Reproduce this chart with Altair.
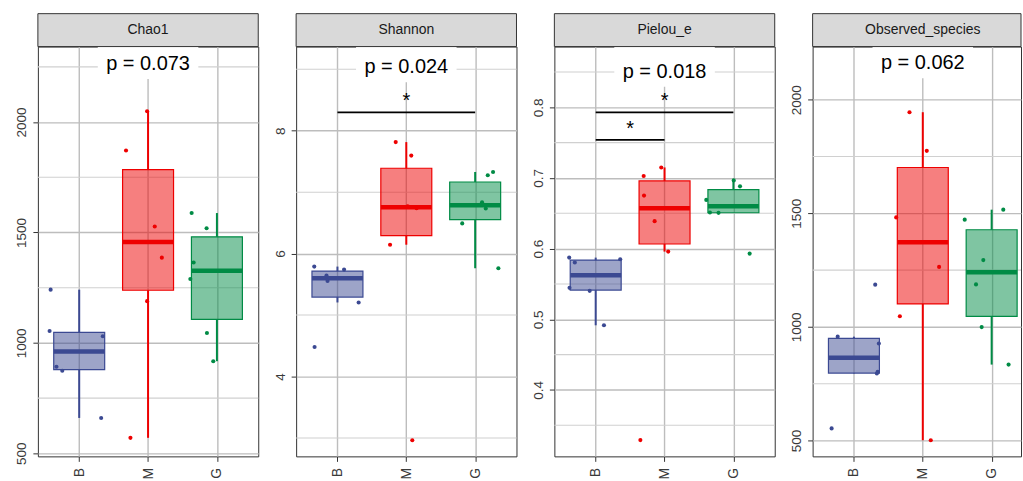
import altair as alt
import numpy as np
import pandas as pd

# Groups and their colours
groups = ["B", "M", "G"]
group_pos = [1, 2, 3]
colors = ["#3B4992", "#EE0000", "#008B45"]

# Alpha-diversity indices shown as panels
metrics = ["Chao1", "Shannon", "Pielou_e", "Observed_species"]
p_labels = ["p = 0.073", "p = 0.024", "p = 0.018", "p = 0.062"]
p_label_y = [2258, 9.015, 0.849, 2156]
y_domains = [[486, 2342], [2.70, 9.37], [0.306, 0.886], [430, 2234]]
major_ticks = [[500, 1000, 1500, 2000], [4, 6, 8], [0.4, 0.5, 0.6, 0.7, 0.8], [500, 1000, 1500, 2000]]
minor_ticks = [[750, 1250, 1750, 2250], [3, 5, 7, 9],
               [0.35, 0.45, 0.55, 0.65, 0.75, 0.85], [750, 1250, 1750]]
label_formats = ["d", "d", ".1f", "d"]

# Per-sample index values, by group (B, M, G)
chao1_B = [1241, 1054, 1030, 892, 874, 660]
chao1_M = [2049, 1871, 1527, 1386, 1189, 570]
chao1_G = [1588, 1519, 1364, 1289, 1045, 917]

shannon_B = [5.789, 5.740, 5.642, 5.556, 5.205, 4.481]
shannon_M = [7.815, 7.595, 6.740, 6.772, 6.145, 2.962]
shannon_G = [7.329, 7.275, 6.837, 6.735, 6.492, 5.762]

pielou_B = [0.5873, 0.5803, 0.5849, 0.5445, 0.5403, 0.4915]
pielou_M = [0.7149, 0.7028, 0.6751, 0.6389, 0.5958, 0.329]
pielou_G = [0.6966, 0.6882, 0.669, 0.6511, 0.6507, 0.593]

observed_B = [957, 927, 802, 795, 553, 1186]
observed_M = [1945, 1775, 1482, 1264, 1047, 501]
observed_G = [1516, 1472, 1294, 1187, 999, 834]

# Horizontal jitter of each sample, in category units
chao1_jit = [[-0.415, -0.43, 0.343, -0.33, -0.246, 0.319],
             [-0.014, -0.32, 0.097, 0.2, -0.014, -0.256],
             [-0.367, -0.15, -0.338, -0.386, -0.145, -0.053]]
shannon_jit = [[-0.337, 0.096, -0.159, -0.144, 0.308, -0.332],
               [-0.154, 0.072, 0.149, 0.02, -0.236, 0.087],
               [0.26, 0.183, 0.1, 0.154, -0.188, 0.337]]
pielou_jit = [[-0.385, -0.303, 0.356, -0.38, -0.087, 0.12],
              [-0.048, -0.303, -0.298, -0.144, 0.053, -0.351],
              [0.005, 0.096, -0.394, -0.341, -0.216, 0.236]]
observed_jit = [[-0.236, 0.362, 0.345, 0.333, -0.324, 0.309],
                [-0.193, 0.058, -0.386, 0.237, -0.333, 0.116],
                [0.169, -0.391, -0.121, -0.227, -0.145, 0.246]]

values = [
    [chao1_B, chao1_M, chao1_G],
    [shannon_B, shannon_M, shannon_G],
    [pielou_B, pielou_M, pielou_G],
    [observed_B, observed_M, observed_G],
]
jitters = [chao1_jit, shannon_jit, pielou_jit, observed_jit]

# Pairwise significance brackets: (panel, from group, to group, height, label)
brackets = [
    ("Shannon", 1, 3, 8.30, "*"),
    ("Pielou_e", 1, 3, 0.793, "*"),
    ("Pielou_e", 1, 2, 0.754, "*"),
]

UNIT_PX = 69.06          # pixels per category step
PANEL_WIDTHS = [221, 221, 221, 209]   # last panel runs to the page edge
PANEL_H = 411
STRIP_H = 33
BOX_HALF = 0.37
FONT = "Liberation Sans"
MAJOR_GRID = "#BDBDBD"
MINOR_GRID = "#D0D0D0"
DARK = "#333333"

color_scale = alt.Scale(domain=groups, range=colors)


def box_stats(v):
    v = np.asarray(v, dtype=float)
    q1, med, q3 = np.percentile(v, [25, 50, 75])
    iqr = q3 - q1
    inside = v[(v >= q1 - 1.5 * iqr) & (v <= q3 + 1.5 * iqr)]
    return q1, med, q3, inside.min(), inside.max()


def panel(i):
    name = metrics[i]
    width = PANEL_WIDTHS[i]
    dom = y_domains[i]
    units_per_px = (dom[1] - dom[0]) / PANEL_H

    x_scale = alt.Scale(domain=[0.4, 0.4 + width / UNIT_PX], nice=False, zero=False)
    x_axis = alt.Axis(values=group_pos, labelExpr="['B','M','G'][datum.value - 1]",
                      labelAngle=270, grid=True, title=None)
    y_scale = alt.Scale(domain=dom, nice=False, zero=False)
    y_axis = alt.Axis(values=major_ticks[i], format=label_formats[i], title=None, grid=True)

    def X(f):
        return alt.X(f, type="quantitative", scale=x_scale, axis=x_axis)

    def Y(f):
        return alt.Y(f, type="quantitative", scale=y_scale, axis=y_axis)

    col = alt.Color("group:N", scale=color_scale, legend=None)

    pts, boxes = [], []
    for g, pos, vals, jit in zip(groups, group_pos, values[i], jitters[i]):
        for v, j in zip(vals, jit):
            pts.append({"group": g, "x": pos + j, "value": v})
        q1, med, q3, lo, hi = box_stats(vals)
        boxes.append({"group": g, "pos": pos, "x0": pos - BOX_HALF, "x1": pos + BOX_HALF,
                      "q1": q1, "med": med, "q3": q3, "lo": lo, "hi": hi})
    pts = pd.DataFrame(pts)
    boxes = pd.DataFrame(boxes)

    minor = alt.Chart(pd.DataFrame({"v": minor_ticks[i]})).mark_rule(
        color=MINOR_GRID, strokeWidth=1.1).encode(y=Y("v"))

    label_df = pd.DataFrame({"x": [2.0], "x0": [2 - 0.73], "x1": [2 + 0.73],
                             "y": [p_label_y[i]],
                             "lo": [p_label_y[i] - 14 * units_per_px],
                             "label": [p_labels[i]]})
    label_bg = alt.Chart(label_df).mark_rect(fill="white").encode(
        x=X("x0"), x2="x1", y=Y("lo"), y2=alt.value(0))

    box = alt.Chart(boxes).mark_rect(fillOpacity=0.5, strokeWidth=1.2).encode(
        x=X("x0"), x2="x1", y=Y("q1"), y2="q3", fill=col, stroke=col)
    w_low = alt.Chart(boxes).mark_rule(strokeWidth=2).encode(
        x=X("pos"), y=Y("lo"), y2="q1", color=col)
    w_high = alt.Chart(boxes).mark_rule(strokeWidth=2).encode(
        x=X("pos"), y=Y("q3"), y2="hi", color=col)
    median = alt.Chart(boxes).mark_rule(strokeWidth=4.5).encode(
        x=X("x0"), x2="x1", y=Y("med"), color=col)
    points = alt.Chart(pts).mark_circle(size=17, opacity=1).encode(
        x=X("x"), y=Y("value"), color=col)
    p_text = alt.Chart(label_df).mark_text(fontSize=20, font=FONT, color="black",
                                           baseline="middle", dy=-1).encode(
        x=X("x"), y=Y("y"), text="label:N")

    strip_df = pd.DataFrame({"name": [name]})
    strip = alt.Chart(strip_df).mark_rect(fill="#D9D9D9", stroke=DARK, strokeWidth=1).encode(
        x=alt.value(0), x2=alt.value(width), y=alt.value(-STRIP_H), y2=alt.value(0))
    strip_text = alt.Chart(strip_df).mark_text(fontSize=14, font=FONT, color="#1A1A1A",
                                               baseline="middle").encode(
        x=alt.value(221 / 2), y=alt.value(-STRIP_H / 2), text="name:N")

    layers = [minor, label_bg, box, w_low, w_high, median, points, p_text]

    br = [b for b in brackets if b[0] == name]
    if br:
        br_df = pd.DataFrame([{"x1": a, "x2": b, "xm": (a + b) / 2, "y": y, "sig": s}
                              for _, a, b, y, s in br])
        layers.append(alt.Chart(br_df).mark_rule(color="black", strokeWidth=1.8).encode(
            x=X("x1"), x2="x2", y=Y("y")))
        layers.append(alt.Chart(br_df).mark_text(fontSize=20, font=FONT, color="black",
                                                 baseline="alphabetic", dy=-5).encode(
            x=X("xm"), y=Y("y"), text="sig:N"))

    layers += [strip, strip_text]
    return alt.layer(*layers).properties(width=width, height=PANEL_H)


chart = alt.hconcat(
    *[panel(i) for i in range(4)], spacing=38, bounds="flush"
).resolve_scale(
    y="independent", x="independent"
).properties(
    padding={"left": 14, "top": 12, "right": 0, "bottom": 0},
    background="white",
).configure_view(
    stroke=DARK, strokeWidth=1
).configure_axis(
    domain=False,
    gridColor=MAJOR_GRID, gridWidth=1.4,
    tickColor=DARK, tickSize=5, tickWidth=1,
    labelFont=FONT, labelColor="#3A3A3A",
).configure_axisY(
    labelAngle=270, labelFontSize=13.5, labelPadding=4,
).configure_axisX(
    labelFontSize=14, labelPadding=6,
)

chart.save("out.html", embed_options={"renderer": "svg", "actions": False})
